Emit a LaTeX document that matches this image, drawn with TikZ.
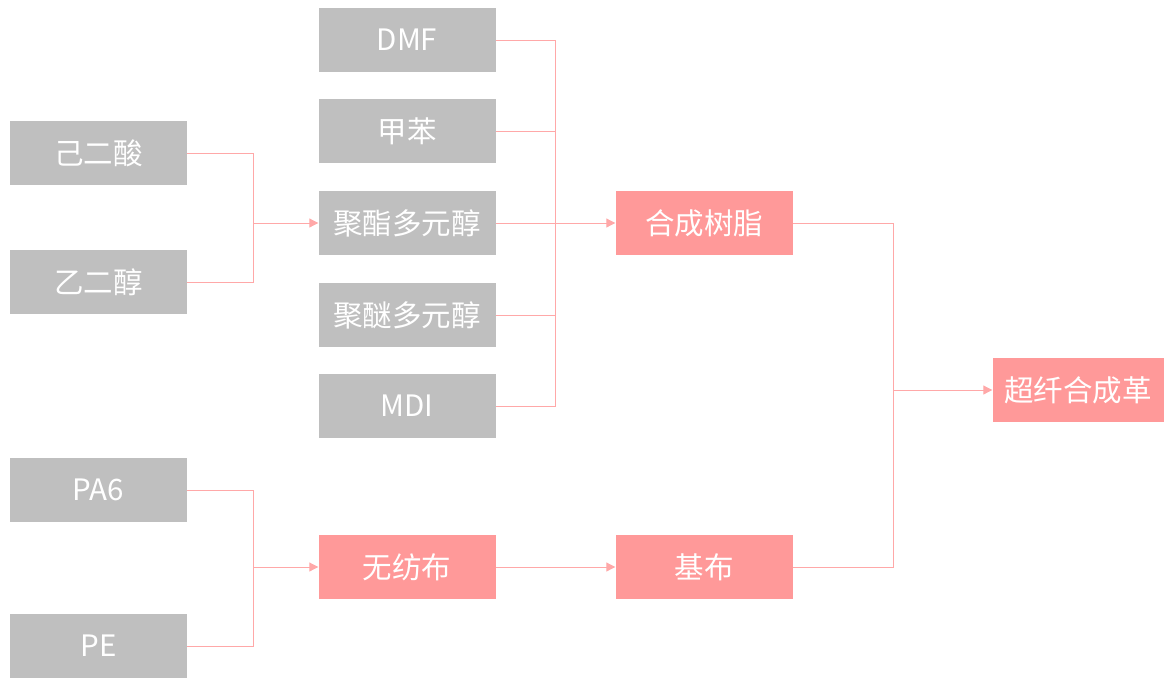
\documentclass[tikz,border=0pt]{standalone}
\usepackage{fontspec}
\newfontfamily\cjk{Noto Sans CJK SC}
\usetikzlibrary{arrows.meta}
\definecolor{boxgray}{HTML}{BFBFBF}
\definecolor{boxpink}{HTML}{FF9999}
\definecolor{linepink}{HTML}{FFA8A8}
\tikzset{
  grayb/.style={fill=boxgray, draw=none, minimum width=177pt, minimum height=64pt, inner sep=0pt, text=white, font=\cjk\fontsize{29.5}{32}\selectfont},
  pinkb/.style={grayb, fill=boxpink},
  conn/.style={draw=linepink, line width=1pt},
  arr/.style={conn, -{Triangle[length=9pt,width=9pt]}},
}
\begin{document}
\begin{tikzpicture}[x=1pt,y=-1pt]
\useasboundingbox (0,0) rectangle (1164,680);
% column 1
\node[grayb] (adi) at (98.5,153) {己二酸};
\node[grayb] (eg) at (98.5,282) {乙二醇};
\node[grayb] (pa6) at (98.5,490) {PA6};
\node[grayb] (pe) at (98.5,646) {PE};
% column 2
\node[grayb] (dmf) at (407,40) {DMF};
\node[grayb] (tol) at (407,131) {甲苯};
\node[grayb] (pes) at (407,223) {聚酯多元醇};
\node[grayb] (pet) at (407,315) {聚醚多元醇};
\node[grayb] (mdi) at (407,406) {MDI};
\node[pinkb] (nw) at (407,567) {无纺布};
% column 3
\node[pinkb] (res) at (704,223) {合成树脂};
\node[pinkb] (base) at (704,567) {基布};
% column 4
\node[pinkb, minimum width=171pt] (lea) at (1078,390) {超纤合成革};
% junctions
\coordinate (j1) at (253,223);
\coordinate (j2) at (555,223);
\coordinate (j3) at (253,567);
\coordinate (j4) at (893,390);
% connectors
\draw[conn] (adi.east) -| (j1);
\draw[conn] (eg.east) -| (j1);
\draw[arr] (j1) -- (pes.west);
\draw[conn] (dmf.east) -| (j2);
\draw[conn] (tol.east) -| (j2);
\draw[conn] (pet.east) -| (j2);
\draw[conn] (mdi.east) -| (j2);
\draw[conn] (pes.east) -- (j2);
\draw[arr] (j2) -- (res.west);
\draw[conn] (pa6.east) -| (j3);
\draw[conn] (pe.east) -| (j3);
\draw[arr] (j3) -- (nw.west);
\draw[arr] (nw.east) -- (base.west);
\draw[conn] (res.east) -| (j4);
\draw[conn] (base.east) -| (j4);
\draw[arr] (j4) -- (lea.west);
\end{tikzpicture}
\end{document}
